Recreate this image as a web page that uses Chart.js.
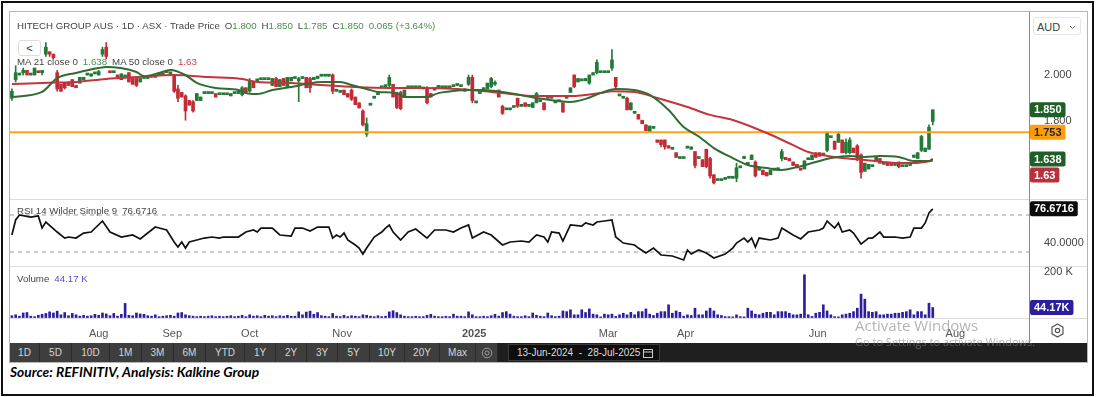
<!DOCTYPE html>
<html>
<head>
<meta charset="utf-8">
<script src="https://cdn.jsdelivr.net/npm/chart.js"></script>
<style>
  html, body { margin: 0; padding: 0; background: #fff; }
  body { width: 1096px; height: 397px; position: relative; overflow: hidden; font-family: "Liberation Sans", Arial, sans-serif; }
  .abs { position: absolute; }
  #outer { left: 1px; top: 1px; width: 1089px; height: 391px; border: 2px solid #111; }
  #widget { left: 9px; top: 11px; width: 1077px; height: 350px; border: 1px solid #b5b5b5; }
  canvas { position: absolute; }
  .hline { height: 1px; background: #dcdcdc; left: 10px; width: 1077px; z-index: 3; }
  #vline { left: 1029px; top: 12px; width: 1px; height: 331px; background: #8a8a8a; z-index: 3; }
  .lbl { font-size: 9.7px; color: #444; white-space: nowrap; z-index: 4; }
  .g { color: #4b8e4b; }
  .r { color: #c8414a; }
  .p { color: #5a4fcf; }
  .sp { display: inline-block; width: 5px; }
  #back { left: 18px; top: 40px; width: 21px; height: 14px; border: 1px solid #ddd; border-radius: 3px; font-size: 11px; color: #333; text-align: center; line-height: 14px; background: #fff; z-index: 4; }
  #aud { left: 1033px; top: 17px; width: 48px; height: 18px; border: 1px solid #e6e6e6; border-radius: 3px; background: #fff; z-index: 4; font-size: 11px; color: #444; line-height: 18px; padding-left: 3px; box-sizing: border-box; }
  #aud svg { position: absolute; right: 4px; top: 7px; }
  #toolbar { left: 10px; top: 343px; width: 1077px; height: 19px; background: #1f1f1f; z-index: 4; }
  .btn { position: absolute; top: 0; height: 19px; background: #3e3e3e; border-right: 1px solid #2a2a2a; box-sizing: border-box; color: #d6d6d6; font-size: 10px; text-align: center; line-height: 19px; }
  #dates { position: absolute; left: 498px; top: 1px; width: 152px; height: 17px; background: #0e0e0e; border: 1px solid #3a3a3a; box-sizing: border-box; color: #dcdcdc; font-size: 10px; line-height: 15px; padding-left: 8px; }
  #dates svg { position: absolute; right: 6px; top: 3px; }
  #source { left: 10px; top: 363px; font-family: Lato, "Liberation Sans", sans-serif; font-weight: bold; font-style: italic; font-size: 13.8px; color: #000; }
  .wm { color: rgba(130,130,130,0.6); z-index: 6; white-space: nowrap; font-family: "Open Sans", "Liberation Sans", sans-serif; }
</style>
</head>
<body>
<div id="outer" class="abs"></div>
<div id="widget" class="abs"></div>

<canvas id="price" width="1077" height="187" style="left:10px;top:12px"></canvas>
<canvas id="rsi" width="1077" height="66" style="left:10px;top:200px"></canvas>
<canvas id="vol" width="1077" height="76" style="left:10px;top:267px"></canvas>

<div class="abs hline" style="top:199px"></div>
<div class="abs hline" style="top:266px"></div>
<div class="abs hline" style="top:318px"></div>
<div id="vline" class="abs"></div>

<div class="abs lbl" style="left:17px;top:20px">HITECH GROUP AUS · 1D · ASX · Trade Price<span class="sp"></span>O<span class="g">1.800</span><span class="sp"></span>H<span class="g">1.850</span><span class="sp"></span>L<span class="g">1.785</span><span class="sp"></span>C<span class="g">1.850</span><span class="sp"></span><span class="g">0.065 (+3.64%)</span></div>
<div id="back" class="abs">&lt;</div>
<div class="abs lbl" style="left:17px;top:56px">MA 21 close 0<span class="sp"></span><span class="g">1.638</span><span class="sp"></span>MA 50 close 0<span class="sp"></span><span class="r">1.63</span></div>
<div class="abs lbl" style="left:17px;top:205px">RSI 14 Wilder Simple 9<span class="sp"></span>76.6716</div>
<div class="abs lbl" style="left:17px;top:273px">Volume<span class="sp"></span><span class="p">44.17 K</span></div>

<div id="aud" class="abs">AUD<svg width="7" height="5" viewBox="0 0 7 5"><polyline points="1,1 3.5,3.5 6,1" fill="none" stroke="#666" stroke-width="1"/></svg></div>

<svg class="abs" style="left:1050px;top:323px;z-index:4" width="15" height="15" viewBox="0 0 15 15">
  <polygon points="7.5,1 13,4.2 13,10.8 7.5,14 2,10.8 2,4.2" fill="none" stroke="#555" stroke-width="1.2"/>
  <circle cx="7.5" cy="7.5" r="2.2" fill="none" stroke="#555" stroke-width="1.2"/>
</svg>

<div id="toolbar" class="abs">
  <div class="btn" style="left:0;width:30px">1D</div>
  <div class="btn" style="left:30px;width:32px">5D</div>
  <div class="btn" style="left:62px;width:38px">10D</div>
  <div class="btn" style="left:100px;width:32px">1M</div>
  <div class="btn" style="left:132px;width:32px">3M</div>
  <div class="btn" style="left:164px;width:32px">6M</div>
  <div class="btn" style="left:196px;width:39px">YTD</div>
  <div class="btn" style="left:235px;width:31px">1Y</div>
  <div class="btn" style="left:266px;width:31px">2Y</div>
  <div class="btn" style="left:297px;width:31px">3Y</div>
  <div class="btn" style="left:328px;width:32px">5Y</div>
  <div class="btn" style="left:360px;width:35px">10Y</div>
  <div class="btn" style="left:395px;width:35px">20Y</div>
  <div class="btn" style="left:430px;width:36px">Max</div>
  <div class="btn" style="left:466px;width:22px">
    <svg width="12" height="12" viewBox="0 0 12 12" style="margin-top:3.5px"><circle cx="6" cy="6" r="4.8" fill="none" stroke="#9a9a9a" stroke-width="1"/><circle cx="6" cy="6" r="2" fill="none" stroke="#9a9a9a" stroke-width="1"/></svg>
  </div>
  <div id="dates">13-Jun-2024 &nbsp;- &nbsp;28-Jul-2025<svg width="10" height="10" viewBox="0 0 10 10"><rect x="0.5" y="1.5" width="9" height="8" fill="none" stroke="#ccc" stroke-width="1"/><line x1="0.5" y1="4" x2="9.5" y2="4" stroke="#ccc"/></svg></div>
</div>

<div class="abs wm" style="left:855px;top:315px;font-size:15px">Activate Windows</div>
<div class="abs wm" style="left:855px;top:334px;font-size:11px">Go to Settings to activate Windows.</div>

<div id="source" class="abs">Source: REFINITIV, Analysis: Kalkine Group</div>

<script>
// daily candles, 13-Jun-2024 .. 28-Jul-2025
const opens = [
  1.90, 1.98, 2.00, 2.01, 2.02, 2.00, 2.00, 2.015, 2.01, 2.09,
  2.10, 2.09, 2.01, 1.96, 1.965, 1.97, 1.98, 1.955, 1.965, 1.98,
  2.00, 1.995, 2.005, 2.00, 2.09, 2.12, 2.015, 2.01, 2.00, 1.98,
  1.99, 2.01, 1.99, 1.985, 1.97, 1.985, 1.985, 1.99, 1.99, 2.00,
  2.00, 2.01, 2.005, 2.00, 1.94, 1.925, 1.91, 1.89, 1.885, 1.89,
  1.89, 1.92, 1.92, 1.92, 1.92, 1.915, 1.915, 1.915, 1.91, 1.92,
  1.92, 1.915, 1.945, 1.93, 1.97, 1.975, 1.98, 1.98, 1.98, 1.955,
  1.985, 1.95, 1.985, 1.95, 1.975, 1.985, 1.975, 1.985, 1.99, 1.985,
  1.98, 1.985, 1.995, 1.995, 1.995, 2.00, 1.93, 1.925, 1.935, 1.92,
  1.935, 1.905, 1.88, 1.845, 1.745, 1.87, 1.90, 1.915, 1.945, 1.95,
  1.955, 1.96, 1.92, 1.925, 1.905, 1.945, 1.945, 1.945, 1.945, 1.94,
  1.945, 1.92, 1.935, 1.945, 1.945, 1.945, 1.945, 1.95, 1.955, 1.95,
  1.93, 1.96, 1.99, 1.88, 1.92, 1.93, 1.94, 1.95, 1.96, 1.935,
  1.865, 1.85, 1.85, 1.86, 1.90, 1.865, 1.88, 1.865, 1.86, 1.88,
  1.885, 1.88, 1.90, 1.90, 1.88, 1.885, 1.88, 1.90, 1.925, 2.00,
  1.97, 1.975, 1.975, 1.965, 2.00, 2.01, 2.01, 2.01, 2.01, 2.03,
  1.99, 1.91, 1.90, 1.90, 1.85, 1.835, 1.83, 1.805, 1.785, 1.755,
  1.77, 1.72, 1.72, 1.72, 1.695, 1.68, 1.665, 1.64, 1.64, 1.685,
  1.68, 1.67, 1.64, 1.635, 1.68, 1.64, 1.57, 1.545, 1.545, 1.55,
  1.555, 1.555, 1.555, 1.60, 1.64, 1.615, 1.635, 1.625, 1.59, 1.59,
  1.58, 1.57, 1.59, 1.59, 1.64, 1.645, 1.64, 1.625, 1.615, 1.595,
  1.595, 1.635, 1.635, 1.665, 1.665, 1.655, 1.675, 1.73, 1.715, 1.71,
  1.72, 1.665, 1.665, 1.685, 1.695, 1.655, 1.585, 1.595, 1.605, 1.63,
  1.64, 1.615, 1.62, 1.615, 1.61, 1.625, 1.605, 1.605, 1.61, 1.645,
  1.64, 1.675, 1.67, 1.68, 1.80
];
const highs = [
  1.94, 2.04, 2.00, 2.03, 2.02, 2.00, 2.03, 2.015, 2.02, 2.14,
  2.10, 2.09, 2.02, 1.96, 1.965, 1.97, 1.98, 1.955, 1.99, 1.99,
  2.00, 2.005, 2.005, 2.02, 2.12, 2.14, 2.015, 2.01, 2.00, 2.005,
  2.00, 2.01, 1.99, 1.99, 1.985, 1.985, 1.99, 1.99, 2.00, 2.00,
  2.01, 2.01, 2.01, 2.00, 1.955, 1.925, 1.915, 1.89, 1.89, 1.92,
  1.905, 1.92, 1.92, 1.92, 1.92, 1.915, 1.915, 1.915, 1.92, 1.92,
  1.93, 1.95, 1.945, 1.985, 1.97, 1.975, 1.98, 1.98, 1.98, 1.985,
  1.99, 1.98, 1.985, 1.99, 1.99, 1.985, 1.99, 1.985, 1.99, 1.99,
  1.99, 1.995, 1.995, 1.995, 1.995, 2.005, 1.93, 1.925, 1.935, 1.92,
  1.94, 1.905, 1.88, 1.85, 1.815, 1.87, 1.90, 1.915, 1.945, 1.95,
  2.00, 1.96, 1.925, 1.93, 1.935, 1.945, 1.945, 1.945, 1.945, 1.94,
  1.95, 1.92, 1.945, 1.955, 1.945, 1.945, 1.945, 1.95, 1.955, 1.95,
  1.94, 2.00, 2.00, 1.88, 1.92, 1.945, 1.965, 1.99, 1.975, 1.935,
  1.87, 1.85, 1.85, 1.86, 1.90, 1.865, 1.88, 1.865, 1.88, 1.925,
  1.885, 1.88, 1.90, 1.90, 1.88, 1.885, 1.88, 1.91, 1.945, 2.00,
  1.985, 1.98, 1.985, 2.00, 2.01, 2.065, 2.01, 2.01, 2.01, 2.11,
  1.99, 1.91, 1.90, 1.905, 1.88, 1.835, 1.83, 1.805, 1.785, 1.78,
  1.77, 1.72, 1.72, 1.72, 1.695, 1.68, 1.665, 1.64, 1.64, 1.685,
  1.69, 1.67, 1.64, 1.635, 1.68, 1.645, 1.57, 1.545, 1.545, 1.55,
  1.555, 1.555, 1.62, 1.60, 1.65, 1.615, 1.655, 1.63, 1.59, 1.59,
  1.58, 1.59, 1.595, 1.60, 1.68, 1.645, 1.64, 1.625, 1.615, 1.595,
  1.63, 1.635, 1.655, 1.665, 1.665, 1.655, 1.755, 1.73, 1.715, 1.755,
  1.72, 1.725, 1.73, 1.685, 1.70, 1.66, 1.62, 1.615, 1.605, 1.645,
  1.64, 1.615, 1.62, 1.615, 1.61, 1.625, 1.605, 1.605, 1.61, 1.655,
  1.665, 1.74, 1.685, 1.785, 1.85
];
const lows = [
  1.89, 1.97, 2.00, 2.00, 2.00, 2.00, 2.00, 2.01, 2.00, 2.08,
  2.08, 2.07, 1.93, 1.93, 1.94, 1.955, 1.95, 1.945, 1.965, 1.98,
  2.00, 1.995, 2.005, 2.00, 2.08, 2.07, 2.01, 2.01, 1.99, 1.98,
  1.99, 1.97, 1.96, 1.95, 1.97, 1.985, 1.985, 1.99, 1.99, 2.00,
  2.00, 2.01, 2.005, 1.925, 1.885, 1.905, 1.805, 1.87, 1.84, 1.89,
  1.89, 1.92, 1.92, 1.92, 1.905, 1.915, 1.915, 1.915, 1.91, 1.92,
  1.92, 1.91, 1.925, 1.925, 1.945, 1.975, 1.98, 1.98, 1.98, 1.955,
  1.95, 1.95, 1.955, 1.95, 1.975, 1.985, 1.885, 1.985, 1.945, 1.925,
  1.98, 1.985, 1.995, 1.995, 1.995, 1.92, 1.93, 1.925, 1.915, 1.905,
  1.89, 1.872, 1.858, 1.78, 1.735, 1.87, 1.90, 1.915, 1.945, 1.95,
  1.95, 1.905, 1.855, 1.85, 1.905, 1.945, 1.945, 1.945, 1.945, 1.94,
  1.875, 1.905, 1.935, 1.945, 1.945, 1.945, 1.945, 1.95, 1.955, 1.95,
  1.93, 1.955, 1.88, 1.88, 1.92, 1.93, 1.94, 1.945, 1.955, 1.905,
  1.83, 1.85, 1.85, 1.86, 1.86, 1.865, 1.865, 1.865, 1.86, 1.88,
  1.885, 1.85, 1.90, 1.90, 1.88, 1.885, 1.84, 1.90, 1.925, 1.945,
  1.97, 1.975, 1.975, 1.96, 2.00, 2.005, 2.01, 2.01, 2.01, 2.02,
  1.945, 1.91, 1.90, 1.85, 1.85, 1.835, 1.81, 1.79, 1.76, 1.755,
  1.77, 1.71, 1.69, 1.68, 1.685, 1.68, 1.645, 1.64, 1.64, 1.685,
  1.68, 1.60, 1.64, 1.605, 1.60, 1.555, 1.53, 1.545, 1.545, 1.55,
  1.555, 1.555, 1.54, 1.60, 1.64, 1.615, 1.635, 1.56, 1.59, 1.57,
  1.565, 1.57, 1.59, 1.59, 1.63, 1.635, 1.63, 1.61, 1.60, 1.59,
  1.595, 1.635, 1.635, 1.645, 1.65, 1.655, 1.67, 1.73, 1.68, 1.71,
  1.665, 1.66, 1.66, 1.665, 1.63, 1.555, 1.585, 1.595, 1.605, 1.63,
  1.62, 1.615, 1.61, 1.61, 1.61, 1.60, 1.605, 1.605, 1.61, 1.645,
  1.64, 1.67, 1.67, 1.68, 1.785
];
const closes = [
  1.93, 2.01, 2.00, 2.02, 2.00, 2.00, 2.03, 2.01, 2.02, 2.12,
  2.09, 2.075, 1.94, 1.93, 1.945, 1.955, 1.95, 1.945, 1.99, 1.99,
  2.00, 2.005, 2.005, 2.015, 2.11, 2.08, 2.01, 2.01, 1.99, 2.005,
  2.00, 1.97, 1.96, 1.955, 1.985, 1.985, 1.99, 1.99, 2.00, 2.00,
  2.01, 2.01, 2.01, 1.93, 1.90, 1.905, 1.845, 1.87, 1.845, 1.92,
  1.905, 1.92, 1.92, 1.92, 1.905, 1.915, 1.915, 1.915, 1.92, 1.92,
  1.93, 1.945, 1.925, 1.975, 1.945, 1.975, 1.98, 1.98, 1.98, 1.985,
  1.95, 1.98, 1.955, 1.99, 1.99, 1.985, 1.985, 1.985, 1.945, 1.945,
  1.99, 1.995, 1.995, 1.995, 1.995, 1.93, 1.93, 1.925, 1.915, 1.905,
  1.895, 1.872, 1.858, 1.785, 1.79, 1.87, 1.90, 1.915, 1.945, 1.95,
  1.99, 1.905, 1.86, 1.855, 1.935, 1.945, 1.945, 1.945, 1.945, 1.94,
  1.88, 1.905, 1.945, 1.955, 1.945, 1.945, 1.945, 1.95, 1.955, 1.95,
  1.94, 1.99, 1.89, 1.88, 1.92, 1.945, 1.965, 1.985, 1.965, 1.905,
  1.835, 1.85, 1.85, 1.86, 1.865, 1.865, 1.865, 1.865, 1.88, 1.92,
  1.885, 1.85, 1.90, 1.90, 1.88, 1.885, 1.84, 1.91, 1.945, 1.95,
  1.985, 1.98, 1.985, 2.00, 2.01, 2.055, 2.01, 2.01, 2.01, 2.065,
  1.95, 1.91, 1.90, 1.85, 1.88, 1.835, 1.81, 1.79, 1.76, 1.78,
  1.77, 1.71, 1.70, 1.69, 1.685, 1.68, 1.645, 1.64, 1.64, 1.685,
  1.69, 1.61, 1.64, 1.605, 1.605, 1.565, 1.535, 1.545, 1.545, 1.55,
  1.555, 1.555, 1.60, 1.60, 1.645, 1.615, 1.655, 1.565, 1.59, 1.57,
  1.565, 1.59, 1.595, 1.60, 1.67, 1.635, 1.63, 1.61, 1.60, 1.59,
  1.63, 1.635, 1.655, 1.645, 1.65, 1.655, 1.75, 1.73, 1.68, 1.745,
  1.665, 1.71, 1.72, 1.665, 1.64, 1.58, 1.62, 1.615, 1.605, 1.645,
  1.62, 1.615, 1.61, 1.61, 1.61, 1.605, 1.605, 1.605, 1.61, 1.655,
  1.665, 1.735, 1.685, 1.775, 1.85
];
// volume in thousands
const volumesK = [
  8, 12, 6, 20, 22, 6, 4, 10, 14, 18,
  25, 20, 28, 12, 22, 8, 18, 12, 6, 10,
  6, 8, 14, 10, 20, 16, 8, 18, 6, 14,
  62, 10, 8, 20, 16, 14, 8, 6, 12, 4,
  6, 8, 10, 6, 20, 22, 12, 8, 6, 4,
  6, 4, 6, 8, 4, 6, 4, 6, 8, 4,
  6, 10, 4, 12, 6, 8, 4, 10, 6, 8,
  4, 8, 6, 10, 6, 6, 25, 12, 24, 28,
  14, 22, 8, 6, 4, 18, 6, 4, 10, 4,
  8, 6, 4, 12, 10, 6, 4, 8, 4, 6,
  25, 30, 22, 12, 6, 4, 4, 6, 4, 4,
  10, 14, 6, 4, 4, 6, 4, 15, 6, 6,
  4, 25, 12, 4, 4, 6, 4, 8, 14, 6,
  22, 26, 15, 6, 4, 4, 8, 4, 20, 10,
  6, 4, 20, 8, 4, 6, 29, 26, 34, 12,
  12, 34, 22, 38, 15, 12, 3, 15, 12, 15,
  5, 12, 19, 12, 23, 12, 26, 26, 38, 15,
  9, 19, 26, 26, 56, 19, 29, 23, 6, 12,
  9, 41, 12, 12, 29, 41, 29, 12, 9, 4,
  4, 3, 12, 4, 3, 41, 29, 15, 12, 19,
  23, 23, 12, 26, 26, 26, 19, 12, 12, 15,
  188, 12, 5, 19, 23, 56, 29, 12, 4, 3,
  12, 15, 19, 26, 41, 103, 81, 26, 23, 26,
  12, 12, 15, 15, 19, 19, 23, 26, 34, 12,
  26, 26, 12, 63, 44.17
];

// moving averages, read at sample bars
const ma21Idx = [0, 8, 12, 17, 23, 25, 33, 35, 39, 42, 46, 49, 54, 60, 62, 65, 69, 74, 78, 82, 87, 90, 94, 97, 102, 104, 110, 113, 117, 121, 124, 130, 139, 148, 152, 156, 160, 165, 169, 174, 178, 182, 186, 191, 195, 200, 204, 208, 213, 217, 222, 226, 230, 235, 239, 243, 244];
const ma21Val = [1.905, 1.927, 1.987, 2.009, 2.030, 2.034, 2.013, 1.995, 2.009, 2.022, 2.000, 1.966, 1.944, 1.935, 1.922, 1.918, 1.935, 1.948, 1.961, 1.970, 1.970, 1.957, 1.940, 1.927, 1.922, 1.905, 1.905, 1.922, 1.931, 1.935, 1.935, 1.927, 1.901, 1.884, 1.897, 1.922, 1.940, 1.935, 1.914, 1.849, 1.776, 1.735, 1.685, 1.642, 1.612, 1.599, 1.591, 1.603, 1.625, 1.642, 1.651, 1.647, 1.651, 1.647, 1.629, 1.629, 1.638];
const ma50Idx = [0, 8, 17, 25, 33, 43, 52, 61, 65, 74, 82, 91, 100, 109, 118, 124, 130, 139, 148, 156, 159, 165, 171, 179, 185, 191, 200, 207, 211, 216, 220, 226, 235, 239, 244];
const ma50Val = [1.961, 1.966, 1.970, 1.983, 1.991, 2.000, 1.991, 1.983, 1.970, 1.966, 1.957, 1.948, 1.944, 1.944, 1.940, 1.932, 1.922, 1.909, 1.909, 1.922, 1.930, 1.927, 1.901, 1.862, 1.828, 1.806, 1.750, 1.698, 1.668, 1.651, 1.642, 1.634, 1.621, 1.621, 1.630];

// RSI 14, read at sample bars
const rsiIdx = [0, 1, 2, 5, 7, 8, 9, 12, 14, 15, 17, 19, 21, 24, 26, 29, 32, 34, 38, 39, 41, 43, 44, 45, 46, 47, 49, 51, 53, 55, 56, 60, 62, 64, 65, 66, 69, 71, 74, 75, 77, 79, 81, 84, 85, 86, 87, 88, 89, 91, 92, 93, 94, 96, 98, 99, 100, 101, 103, 105, 107, 110, 112, 115, 117, 119, 121, 122, 125, 127, 130, 132, 135, 137, 139, 141, 142, 143, 145, 146, 148, 151, 152, 154, 155, 157, 159, 160, 162, 165, 166, 168, 170, 172, 175, 178, 179, 180, 182, 184, 186, 189, 191, 192, 194, 195, 196, 197, 198, 201, 203, 204, 207, 209, 211, 214, 215, 216, 218, 219, 220, 222, 223, 225, 227, 228, 230, 231, 234, 236, 238, 239, 241, 242, 243, 244];
const rsiVal = [48.4, 64.6, 70, 67.8, 68.9, 56, 62.4, 51.6, 45.1, 46.2, 45.1, 50.5, 51.6, 63.5, 51.6, 46.2, 48.4, 44.1, 57, 55.9, 53.8, 40.8, 35.4, 40.8, 34.3, 40.8, 43, 45.1, 46.2, 45.1, 46.2, 46.2, 51.6, 53.8, 51.6, 55.9, 55.9, 48.4, 47.3, 55.9, 55.9, 52.7, 57, 57, 45.1, 48.4, 46.2, 50.5, 43, 37.6, 34.3, 27.8, 34.3, 46.2, 51.6, 55.9, 59.2, 51.6, 43, 51.6, 54.9, 45.1, 53.8, 53.8, 51.6, 55.9, 59.2, 45.1, 51.6, 48.4, 37.6, 40.8, 41.9, 40.8, 48.4, 46.2, 40.8, 51.6, 50.5, 41.9, 59.2, 58.1, 61.4, 59.2, 62.4, 63.5, 64.6, 46.2, 39.7, 37.6, 34.3, 28.9, 34.3, 26.8, 25.7, 21.4, 32.2, 27.8, 32.2, 28.9, 23.5, 27.8, 34.3, 39.7, 45.1, 40.8, 45.1, 35.4, 45.1, 43, 45.1, 55.9, 48.4, 44.1, 51.6, 53.8, 55.9, 63.5, 55.9, 61.4, 51.6, 53.8, 50.5, 38.6, 45.1, 45.1, 51.6, 46.2, 46.2, 45.1, 46.2, 55.9, 55.9, 61.4, 72.2, 76.6716];
const rsiUpper = 70;
const rsiLower = 30;

const supportLevel = 1.753;
const priceTicks = [1.8, 2.0, 2.2];
const rsiTicks = [40];
const volTicks = [200000];
const monthIdx = [23, 42.5, 63, 87.5, 122.5, 158, 178.5, 213.5, 250];
const monthLabels = ['Aug', 'Sep', 'Oct', 'Nov', '2025', 'Mar', 'Apr', 'Jun', 'Aug'];

const X_MIN = -0.5, X_MAX = 269.5;
const FONT = '"Liberation Sans", Arial, sans-serif';
const UP = '#237a37', DOWN = '#c42b36';

// coloured value tags on the right axis
function tagPlugin(tags) {
    return {
        id: 'tags',
        afterDraw(chart) {
            const ctx = chart.ctx;
            const y = chart.scales.y;
            const left = chart.chartArea.right + 1;
            let lastBottom = -Infinity;
            ctx.save();
            ctx.font = 'bold 11px ' + FONT;
            ctx.textBaseline = 'middle';
            tags.forEach(t => {
                let cy = y.getPixelForValue(t.value);
                if (cy - 7.5 < lastBottom + 1) cy = lastBottom + 8.5;
                const w = ctx.measureText(t.text).width + 8;
                ctx.fillStyle = t.bg;
                ctx.beginPath();
                ctx.roundRect(left, cy - 7.5, w, 15, 2);
                ctx.fill();
                ctx.fillStyle = t.fg || '#fff';
                ctx.fillText(t.text, left + 4, cy + 0.5);
                lastBottom = cy + 7.5;
            });
            ctx.restore();
        }
    };
}

function rightAxis(min, max, ticks, fmt) {
    return {
        position: 'right', min: min, max: max,
        grid: { display: false }, border: { display: false },
        afterBuildTicks: s => { s.ticks = ticks.map(v => ({ value: v })); },
        afterFit: s => { s.width = 58; s.paddingTop = 0; s.paddingBottom = 0; },
        ticks: { padding: 7, color: '#444', font: { size: 11, family: FONT }, callback: fmt }
    };
}
const hiddenX = { type: 'linear', min: X_MIN, max: X_MAX, display: false, offset: false };
const common = {
    responsive: false, animation: false,
    layout: { padding: 0 },
    plugins: { legend: { display: false }, tooltip: { enabled: false } }
};

const colors = closes.map((c, i) => c >= opens[i] ? UP : DOWN);
const last = closes.length - 1;

// price panel
new Chart(document.getElementById('price'), {
    type: 'bar',
    data: {
        datasets: [
            { type: 'line', data: ma21Idx.map((x, i) => ({ x, y: ma21Val[i] })), borderColor: '#2f6d33', borderWidth: 2, pointRadius: 0, cubicInterpolationMode: 'monotone', order: 0 },
            { type: 'line', data: ma50Idx.map((x, i) => ({ x, y: ma50Val[i] })), borderColor: '#c3343f', borderWidth: 2, pointRadius: 0, cubicInterpolationMode: 'monotone', order: 0 },
            { type: 'line', data: [{ x: X_MIN, y: supportLevel }, { x: X_MAX, y: supportLevel }], borderColor: '#ffa31a', borderWidth: 2, pointRadius: 0, order: 1 },
            { data: closes.map((c, i) => ({ x: i, y: [opens[i], c] })), backgroundColor: colors, barThickness: 3, minBarLength: 2, grouped: false, order: 2 },
            { data: closes.map((c, i) => ({ x: i, y: [lows[i], highs[i]] })), backgroundColor: colors, barThickness: 1, grouped: false, order: 3 }
        ]
    },
    options: {
        ...common,
        scales: { x: hiddenX, y: rightAxis(1.4655, 2.2716, priceTicks, v => v.toFixed(3)) }
    },
    plugins: [tagPlugin([
        { value: closes[last], text: closes[last].toFixed(3), bg: '#1f5f27' },
        { value: supportLevel, text: supportLevel.toFixed(3), bg: '#ff9d0a', fg: '#2a2a2a' },
        { value: ma21Val[ma21Val.length - 1], text: ma21Val[ma21Val.length - 1].toFixed(3), bg: '#1f5f27' },
        { value: ma50Val[ma50Val.length - 1], text: ma50Val[ma50Val.length - 1].toFixed(2), bg: '#b8303b' }
    ])]
});

// RSI panel
new Chart(document.getElementById('rsi'), {
    type: 'line',
    data: {
        datasets: [
            { data: rsiIdx.map((x, i) => ({ x, y: rsiVal[i] })), borderColor: '#111', borderWidth: 1.7, pointRadius: 0, tension: 0 },
            { data: [{ x: X_MIN, y: rsiUpper }, { x: X_MAX, y: rsiUpper }], borderColor: '#9a9a9a', borderWidth: 1, borderDash: [4, 4], pointRadius: 0 },
            { data: [{ x: X_MIN, y: rsiLower }, { x: X_MAX, y: rsiLower }], borderColor: '#9a9a9a', borderWidth: 1, borderDash: [4, 4], pointRadius: 0 }
        ]
    },
    options: {
        ...common,
        scales: { x: hiddenX, y: rightAxis(14.9, 86.2, rsiTicks, v => v.toFixed(4)) }
    },
    plugins: [tagPlugin([
        { value: rsiVal[rsiVal.length - 1], text: rsiVal[rsiVal.length - 1].toFixed(4), bg: '#0b0b0b' }
    ])]
});

// volume panel with the date axis
new Chart(document.getElementById('vol'), {
    type: 'bar',
    data: {
        datasets: [
            { data: volumesK.map((v, i) => ({ x: i, y: v * 1000 })), backgroundColor: '#2c1f9e', barThickness: 2, grouped: false }
        ]
    },
    options: {
        ...common,
        scales: {
            x: {
                type: 'linear', min: X_MIN, max: X_MAX, offset: false,
                grid: { display: false }, border: { display: false },
                afterBuildTicks: s => { s.ticks = monthIdx.map(v => ({ value: v })); },
                afterFit: s => { s.height = 25; s.paddingLeft = 0; s.paddingRight = 0; },
                ticks: {
                    autoSkip: false, maxRotation: 0, padding: 1, color: '#555',
                    font: c => ({ size: 11, family: FONT, weight: c.index === 4 ? 'bold' : 'normal' }),
                    callback: (v, i) => monthLabels[i]
                }
            },
            y: rightAxis(-2000, 222000, volTicks, v => (v / 1000) + ' K')
        }
    },
    plugins: [tagPlugin([
        { value: volumesK[last] * 1000, text: volumesK[last].toFixed(2) + 'K', bg: '#2c1f9e' }
    ])]
});
</script>
</body>
</html>
